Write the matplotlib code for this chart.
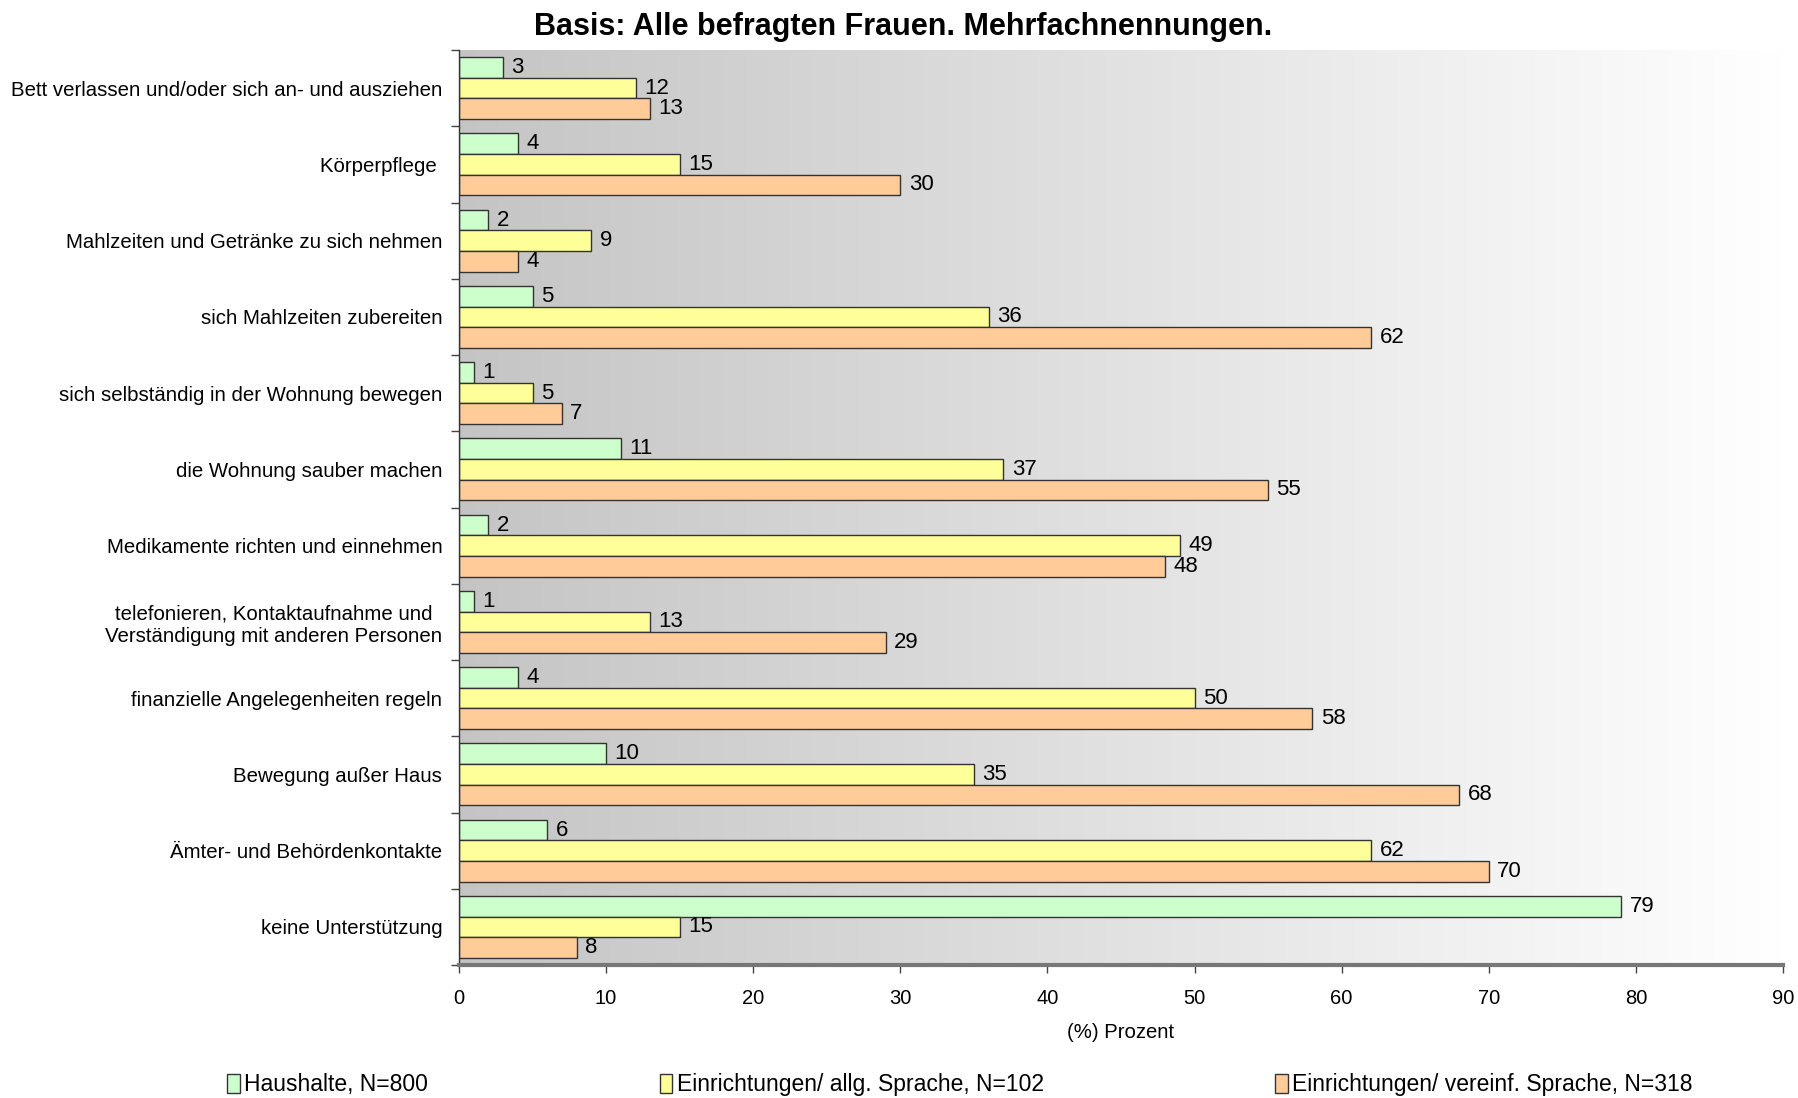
import numpy as np
import matplotlib
matplotlib.use("Agg")
import matplotlib.pyplot as plt
from matplotlib.patches import Patch

plt.rcParams['font.family'] = ['Liberation Sans', 'DejaVu Sans']

categories = [
    "Bett verlassen und/oder sich an- und ausziehen",
    "Körperpflege ",
    "Mahlzeiten und Getränke zu sich nehmen",
    "sich Mahlzeiten zubereiten",
    "sich selbständig in der Wohnung bewegen",
    "die Wohnung sauber machen",
    "Medikamente richten und einnehmen",
    "telefonieren, Kontaktaufnahme und\nVerständigung mit anderen Personen",
    "finanzielle Angelegenheiten regeln",
    "Bewegung außer Haus",
    "Ämter- und Behördenkontakte",
    "keine Unterstützung",
]
haushalte = [3, 4, 2, 5, 1, 11, 2, 1, 4, 10, 6, 79]
allg = [12, 15, 9, 36, 5, 37, 49, 13, 50, 35, 62, 15]
vereinf = [13, 30, 4, 62, 7, 55, 48, 29, 58, 68, 70, 8]
series_names = ["Haushalte, N=800", "Einrichtungen/ allg. Sprache, N=102",
                "Einrichtungen/ vereinf. Sprache, N=318"]
colors = ["#CCFFCC", "#FFFF99", "#FFCC99"]
xticks = [0, 10, 20, 30, 40, 50, 60, 70, 80, 90]

W, H = 1798, 1098
fig = plt.figure(figsize=(W / 100, H / 100), dpi=100)
ax = fig.add_axes([459 / W, 1 - 965 / H, (1783 - 459) / W, (965 - 50) / H])

n = len(categories)
centers = np.arange(n)  # 0 at top after inversion
bh = 0.27
offsets = [-bh, 0, bh]
all_series = [haushalte, allg, vereinf]

# gradient background
grad = np.linspace(0, 1, 512)
g = 0.77 + 0.23 * grad
img = np.stack([g, g, g], axis=-1)[np.newaxis, :, :].repeat(2, axis=0)
ax.imshow(img, extent=[0, 1, 0, 1], transform=ax.transAxes, aspect='auto', zorder=0)

for vals, off, col in zip(all_series, offsets, colors):
    bars = ax.barh(centers + off, vals, height=bh, color=col, edgecolor="#333333",
                   linewidth=1.0, zorder=2)
    for b, v in zip(bars, vals):
        ax.annotate(str(v), (b.get_width(), b.get_y() + b.get_height() / 2),
                    xytext=(6, 0), textcoords="offset points", va="center",
                    ha="left", fontsize=16, zorder=3)

ax.set_xlim(0, 90)
ax.set_ylim(n - 0.5, -0.5)
ax.set_xticks(xticks)
ax.set_xticklabels([str(x) for x in xticks], fontsize=14.5)
ax.tick_params(axis='x', length=6, width=1, color="#444444", pad=11, direction='out')

ax.set_yticks(np.arange(n + 1) - 0.5)
ax.set_yticklabels([])
ax.tick_params(axis='y', which='major', length=6, width=1, color="#444444", direction='out')
ax.set_yticks(centers, minor=True)
ax.set_yticklabels(categories, minor=True, fontsize=14.7)
ax.tick_params(axis='y', which='minor', length=0, pad=12)
for lbl in ax.get_yticklabels(minor=True):
    lbl.set_multialignment('center')

for s in ['top', 'right']:
    ax.spines[s].set_visible(False)
ax.spines['left'].set_color("#333333")
ax.spines['left'].set_linewidth(1.0)
ax.spines['bottom'].set_color("#777777")
ax.spines['bottom'].set_linewidth(3)

ax.set_xlabel("(%) Prozent", fontsize=14.6, labelpad=11)

fig.text(903 / W, 1 - 27 / H, "Basis: Alle befragten Frauen. Mehrfachnennungen.",
         ha="center", va="center", fontsize=22, fontweight="bold")

handles = [Patch(facecolor=c, edgecolor="#333333", linewidth=1.0) for c in colors]
fig.legend(handles, series_names, loc="center", ncol=3, mode="expand",
           bbox_to_anchor=(218 / W, 1 - 1100 / H, (1702 - 218) / W, 30 / H),
           frameon=False, fontsize=16.5, handlelength=0.55, handleheight=0.9,
           handletextpad=0.2, borderaxespad=0)

fig.savefig("out.png", dpi=100)
